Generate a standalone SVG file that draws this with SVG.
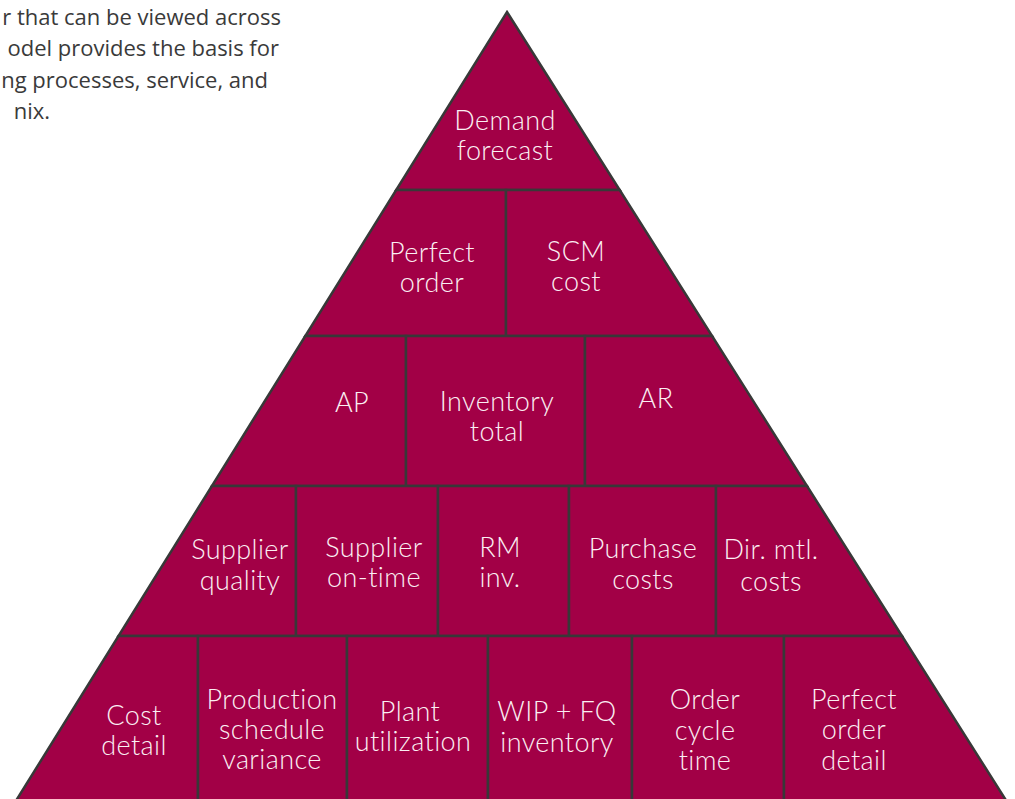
<svg xmlns="http://www.w3.org/2000/svg" width="1015" height="799" viewBox="0 0 1015 799">
  <style>
    .cell { fill: #A20046; stroke: #383838; stroke-width: 2.5; stroke-linejoin: miter; }
    .lbl { font-family: Lato, "Open Sans", "Liberation Sans", sans-serif; font-weight: 300; font-size: 27px; letter-spacing: 0.4px; fill: #FBEFF3; text-anchor: middle; }
    .body { font-family: "Open Sans", Lato, "Liberation Sans", sans-serif; font-size: 22px; fill: #3A3A3A; text-anchor: end; }
  </style>
  <rect width="1015" height="799" fill="#FFFFFF"/>

  <!-- intro paragraph -->
  <g id="intro">
    <text class="body" x="281" y="25">r that can be viewed across</text>
    <text class="body" x="279" y="56">odel provides the basis for</text>
    <text class="body" x="268" y="88">ng processes, service, and</text>
    <text class="body" x="50" y="119">nix.</text>
  </g>

  <!-- row 1 -->
  <g id="demand-forecast">
    <polygon class="cell" points="507,12 619.7,190 396.2,190"/>
    <text class="lbl" x="505" y="130">Demand</text>
    <text class="lbl" x="505" y="160">forecast</text>
  </g>

  <!-- row 2 -->
  <g id="perfect-order">
    <polygon class="cell" points="396.2,190 506,190 506,336 305.3,336"/>
    <text class="lbl" x="432" y="262">Perfect</text>
    <text class="lbl" x="432" y="292">order</text>
  </g>
  <g id="scm-cost">
    <polygon class="cell" points="506,190 619.7,190 712.1,336 506,336"/>
    <text class="lbl" x="576" y="261">SCM</text>
    <text class="lbl" x="576" y="291">cost</text>
  </g>

  <!-- row 3 -->
  <g id="ap">
    <polygon class="cell" points="305.3,336 406,336 406,486 211.9,486"/>
    <text class="lbl" x="352" y="412">AP</text>
  </g>
  <g id="inventory-total">
    <polygon class="cell" points="406,336 585,336 585,486 406,486"/>
    <text class="lbl" x="497" y="411">Inventory</text>
    <text class="lbl" x="497" y="441">total</text>
  </g>
  <g id="ar">
    <polygon class="cell" points="585,336 712.1,336 807,486 585,486"/>
    <text class="lbl" x="656" y="408">AR</text>
  </g>

  <!-- row 4 -->
  <g id="supplier-quality">
    <polygon class="cell" points="211.9,486 296,486 296,636 118.5,636"/>
    <text class="lbl" x="240" y="559">Supplier</text>
    <text class="lbl" x="240" y="590">quality</text>
  </g>
  <g id="supplier-on-time">
    <polygon class="cell" points="296,486 438,486 438,636 296,636"/>
    <text class="lbl" x="374" y="557">Supplier</text>
    <text class="lbl" x="374" y="587">on-time</text>
  </g>
  <g id="rm-inv">
    <polygon class="cell" points="438,486 569,486 569,636 438,636"/>
    <text class="lbl" x="500" y="557">RM</text>
    <text class="lbl" x="500" y="587">inv.</text>
  </g>
  <g id="purchase-costs">
    <polygon class="cell" points="569,486 716,486 716,636 569,636"/>
    <text class="lbl" x="643" y="558">Purchase</text>
    <text class="lbl" x="643" y="589">costs</text>
  </g>
  <g id="dir-mtl-costs">
    <polygon class="cell" points="716,486 807,486 902,636 716,636"/>
    <text class="lbl" x="771" y="559">Dir. mtl.</text>
    <text class="lbl" x="771" y="591">costs</text>
  </g>

  <!-- row 5 (runs past the lower edge) -->
  <g id="cost-detail">
    <polygon class="cell" points="118.5,636 198,636 198,812 9,812"/>
    <text class="lbl" x="134" y="725">Cost</text>
    <text class="lbl" x="134" y="755">detail</text>
  </g>
  <g id="production-schedule-variance">
    <polygon class="cell" points="198,636 347,636 347,812 198,812"/>
    <text class="lbl" x="272" y="709">Production</text>
    <text class="lbl" x="272" y="739">schedule</text>
    <text class="lbl" x="272" y="769">variance</text>
  </g>
  <g id="plant-utilization">
    <polygon class="cell" points="347,636 488,636 488,812 347,812"/>
    <text class="lbl" x="410" y="721">Plant</text>
    <text class="lbl" x="413" y="751">utilization</text>
  </g>
  <g id="wip-fq-inventory">
    <polygon class="cell" points="488,636 632,636 632,812 488,812"/>
    <text class="lbl" x="557" y="721">WIP + FQ</text>
    <text class="lbl" x="557" y="752">inventory</text>
  </g>
  <g id="order-cycle-time">
    <polygon class="cell" points="632,636 784,636 784,812 632,812"/>
    <text class="lbl" x="705" y="709">Order</text>
    <text class="lbl" x="705" y="740">cycle</text>
    <text class="lbl" x="705" y="770">time</text>
  </g>
  <g id="perfect-order-detail">
    <polygon class="cell" points="784,636 902,636 1013.4,812 784,812"/>
    <text class="lbl" x="854" y="709">Perfect</text>
    <text class="lbl" x="854" y="739">order</text>
    <text class="lbl" x="854" y="770">detail</text>
  </g>
</svg>
